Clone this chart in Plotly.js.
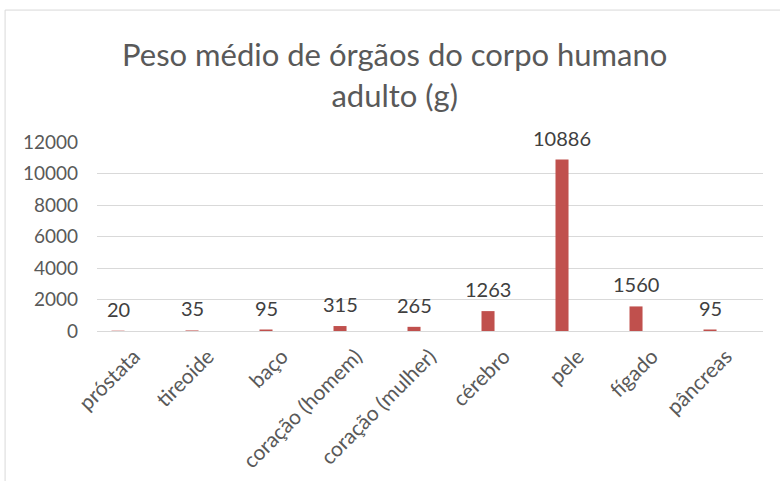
<!DOCTYPE html>
<html>
<head>
<meta charset="utf-8">
<script src="https://cdn.plot.ly/plotly-3.0.1.min.js"></script>
<style>
html,body{margin:0;padding:0;background:#fff;}
#chart{width:780px;height:481px;}
</style>
</head>
<body>
<div id="chart"></div>
<script>
const categories = ["próstata","tireoide","baço","coração (homem)","coração (mulher)","cérebro","pele","fígado","pâncreas"];
const weights = [20,35,95,315,265,1263,10886,1560,95];
const yTicks = [0,2000,4000,6000,8000,10000,12000];

const font = "Lato, 'Open Sans', sans-serif";
const trace = {
  type: "bar",
  x: categories,
  y: weights,
  marker: {color: "#C0504D"},
  width: 0.176,
  offset: -0.304,
  cliponaxis: false,
  hoverinfo: "x+y"
};
const labels = categories.map((c, i) => ({
  x: c, y: weights[i], xref: "x", yref: "y",
  text: String(weights[i]), showarrow: false,
  xanchor: "center", yanchor: "bottom",
  xshift: -16, yshift: 8,
  font: {family: font, size: 20, color: "#404040"}
}));
const layout = {
  width: 780, height: 481,
  margin: {l: 97, r: 17, t: 142, b: 150},
  paper_bgcolor: "#fff", plot_bgcolor: "#fff",
  showlegend: false,
  title: {
    text: "Peso médio de órgãos do corpo humano<br>adulto (g)",
    font: {family: font, size: 31, color: "#595959"},
    x: 0.506, xanchor: "center", xref: "container",
    y: 0.862, yanchor: "middle", yref: "container"
  },
  annotations: labels,
  xaxis: {
    type: "category",
    tickangle: -45,
    tickfont: {family: font, size: 21, color: "#595959"},
    showline: true, linecolor: "#d9d9d9", linewidth: 1,
    ticks: "", showgrid: false, zeroline: false,
    ticklabelstandoff: 4,
    fixedrange: true
  },
  yaxis: {
    range: [0, 12000],
    tickvals: yTicks,
    ticktext: yTicks.map(String),
    tickfont: {family: font, size: 19, color: "#595959"},
    showgrid: true, gridcolor: "#d9d9d9", gridwidth: 1,
    zeroline: false, showline: false, ticks: "",
    ticklabelstandoff: 18,
    fixedrange: true
  },
  shapes: [
    {type: "line", xref: "paper", yref: "paper", x0: -0.138, x1: -0.138, y0: -0.8, y1: 1.698, line: {color: "#d9d9d9", width: 1}},
    {type: "line", xref: "paper", yref: "paper", x0: -0.138, x1: 1.2, y0: 1.698, y1: 1.698, line: {color: "#d9d9d9", width: 1}}
  ]
};
Plotly.newPlot("chart", [trace], layout, {displayModeBar: false, staticPlot: true});
</script>
</body>
</html>
